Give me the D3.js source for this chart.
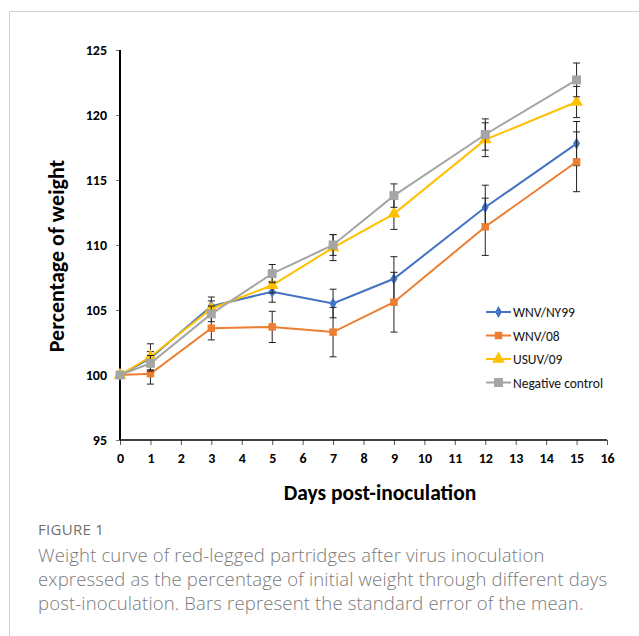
<!DOCTYPE html>
<html><head><meta charset="utf-8">
<script src="https://cdn.jsdelivr.net/npm/d3@7"></script>
<style>body{margin:0;background:#fff;}svg{display:block;}</style>
</head><body>
<svg id="chart" width="639" height="636"></svg>
<script>
const days = [0, 1, 3, 5, 7, 9, 12, 15];
const seriesNames = ["WNV/NY99", "WNV/08", "USUV/09", "Negative control"];
const wnvNY99 = [100, 101.3, 105.3, 106.4, 105.5, 107.4, 112.9, 117.8];
const wnvNY99Err = [0, 0.5, 0.7, 0.8, 1.1, 1.7, 1.7, 1.7];
const wnv08 = [100, 100.1, 103.6, 103.7, 103.3, 105.6, 111.4, 116.4];
const wnv08Err = [0, 0.8, 0.9, 1.2, 1.9, 2.3, 2.2, 2.3];
const usuv09 = [100, 101.4, 105.1, 106.9, 109.8, 112.4, 118.1, 121.0];
const usuv09Err = [0, 1.0, 0.6, 0.6, 1.0, 1.2, 1.3, 1.2];
const negCtrl = [100, 100.9, 104.7, 107.8, 110.0, 113.8, 118.5, 122.7];
const negCtrlErr = [0, 0.6, 0.6, 0.7, 0.8, 0.9, 1.2, 1.3];
const xTicks = d3.range(0, 17);
const yTicks = [95, 100, 105, 110, 115, 120, 125];
const captionTitle = "FIGURE 1";
const captionLines = [
  "Weight curve of red-legged partridges after virus inoculation",
  "expressed as the percentage of initial weight through different days",
  "post-inoculation. Bars represent the standard error of the mean."
];

const colors = ["#4472C4", "#ED7D31", "#FFC000", "#A5A5A5"];
const shapes = ["diamond", "square", "triangle", "square"];
const sizes = [42, 56, 70, 80];
const values = [wnvNY99, wnv08, usuv09, negCtrl];
const errs = [wnvNY99Err, wnv08Err, usuv09Err, negCtrlErr];

const svg = d3.select("#chart");
svg.append("line").attr("x1", 9.5).attr("x2", 639).attr("y1", 11.5).attr("y2", 11.5).attr("stroke", "#d0d0d0").attr("stroke-width", 1);
svg.append("line").attr("x1", 9.5).attr("x2", 9.5).attr("y1", 11.5).attr("y2", 636).attr("stroke", "#d0d0d0").attr("stroke-width", 1);

const x = d3.scaleLinear().domain([0, 16]).range([120, 607]);
const y = d3.scaleLinear().domain([95, 125]).range([440, 50]);

const font = "Carlito, 'Liberation Sans', Arial, sans-serif";

const yAxis = svg.append("g").attr("transform", `translate(${x(0)},0)`)
  .call(d3.axisLeft(y).tickValues(yTicks).tickSize(4).tickPadding(9));
yAxis.select(".domain").remove();
yAxis.selectAll(".tick line").attr("stroke", "#777");
yAxis.selectAll(".tick text").attr("font-family", font).attr("font-weight", "bold").attr("font-size", 14).attr("fill", "#000");

const xAxis = svg.append("g").attr("transform", `translate(0,${y(95)})`)
  .call(d3.axisBottom(x).tickValues(xTicks).tickSize(5).tickPadding(8));
xAxis.select(".domain").remove();
xAxis.selectAll(".tick line").attr("stroke", "#555");
xAxis.selectAll(".tick text").attr("font-family", font).attr("font-weight", "bold").attr("font-size", 14).attr("fill", "#000");

svg.append("line").attr("x1", x(0)).attr("x2", x(16)).attr("y1", y(95)).attr("y2", y(95)).attr("stroke", "#000").attr("stroke-width", 1.5);
svg.append("line").attr("x1", x(0)).attr("x2", x(0)).attr("y1", y(125)).attr("y2", y(95)).attr("stroke", "#000").attr("stroke-width", 2);

svg.append("text").attr("transform", `translate(64,256) rotate(-90)`)
  .attr("text-anchor", "middle").attr("font-family", font).attr("font-weight", "bold").attr("font-size", 22).text("Percentage of weight");
svg.append("text").attr("x", 380).attr("y", 500).attr("text-anchor", "middle")
  .attr("font-family", font).attr("font-weight", "bold").attr("font-size", 21.5).text("Days post-inoculation");

const symType = {diamond: d3.symbolDiamond, square: d3.symbolSquare, triangle: d3.symbolTriangle};
const line = d3.line().x((d, i) => x(days[i])).y(d => y(d));

values.forEach((vals, s) => {
  const g = svg.append("g");
  g.append("path").datum(vals).attr("d", line).attr("fill", "none").attr("stroke", colors[s]).attr("stroke-width", 2);
  const eg = g.append("g");
  vals.forEach((v, i) => {
    const e = errs[s][i];
    if (e <= 0) return;
    const cx = x(days[i]);
    eg.append("line").attr("x1", cx).attr("x2", cx).attr("y1", y(v - e)).attr("y2", y(v + e)).attr("stroke", "#222").attr("stroke-width", 1);
    [v - e, v + e].forEach(t => eg.append("line").attr("x1", cx - 3.5).attr("x2", cx + 3.5).attr("y1", y(t)).attr("y2", y(t)).attr("stroke", "#222").attr("stroke-width", 1));
  });
  g.selectAll("path.m").data(vals).join("path").attr("class", "m")
    .attr("transform", (d, i) => `translate(${x(days[i])},${y(d)})`)
    .attr("d", d3.symbol().type(symType[shapes[s]]).size(sizes[s]))
    .attr("fill", colors[s]);
});

const leg = svg.append("g");
seriesNames.forEach((n, s) => {
  const ly = 312 + s * 23.5;
  leg.append("line").attr("x1", 486).attr("x2", 511).attr("y1", ly).attr("y2", ly).attr("stroke", colors[s]).attr("stroke-width", 2);
  leg.append("path").attr("transform", `translate(498.5,${ly})`)
    .attr("d", d3.symbol().type(symType[shapes[s]]).size(sizes[s])).attr("fill", colors[s]);
  leg.append("text").attr("x", 513).attr("y", ly + 5).attr("font-family", font).attr("font-size", 13.5).attr("fill", "#111").text(n);
});

const capFont = "'Open Sans', Lato, sans-serif";
svg.append("text").attr("x", 38).attr("y", 535).attr("font-family", capFont).attr("font-size", 15).attr("letter-spacing", 0.3).attr("fill", "#707070").text(captionTitle);
captionLines.forEach((t, i) => {
  svg.append("text").attr("x", 38).attr("y", 562 + i * 24).attr("font-family", capFont).attr("font-size", 18.5).attr("letter-spacing", 0.15).attr("font-weight", 300).attr("fill", "#7a7a7a").text(t);
});
</script>
</body></html>
